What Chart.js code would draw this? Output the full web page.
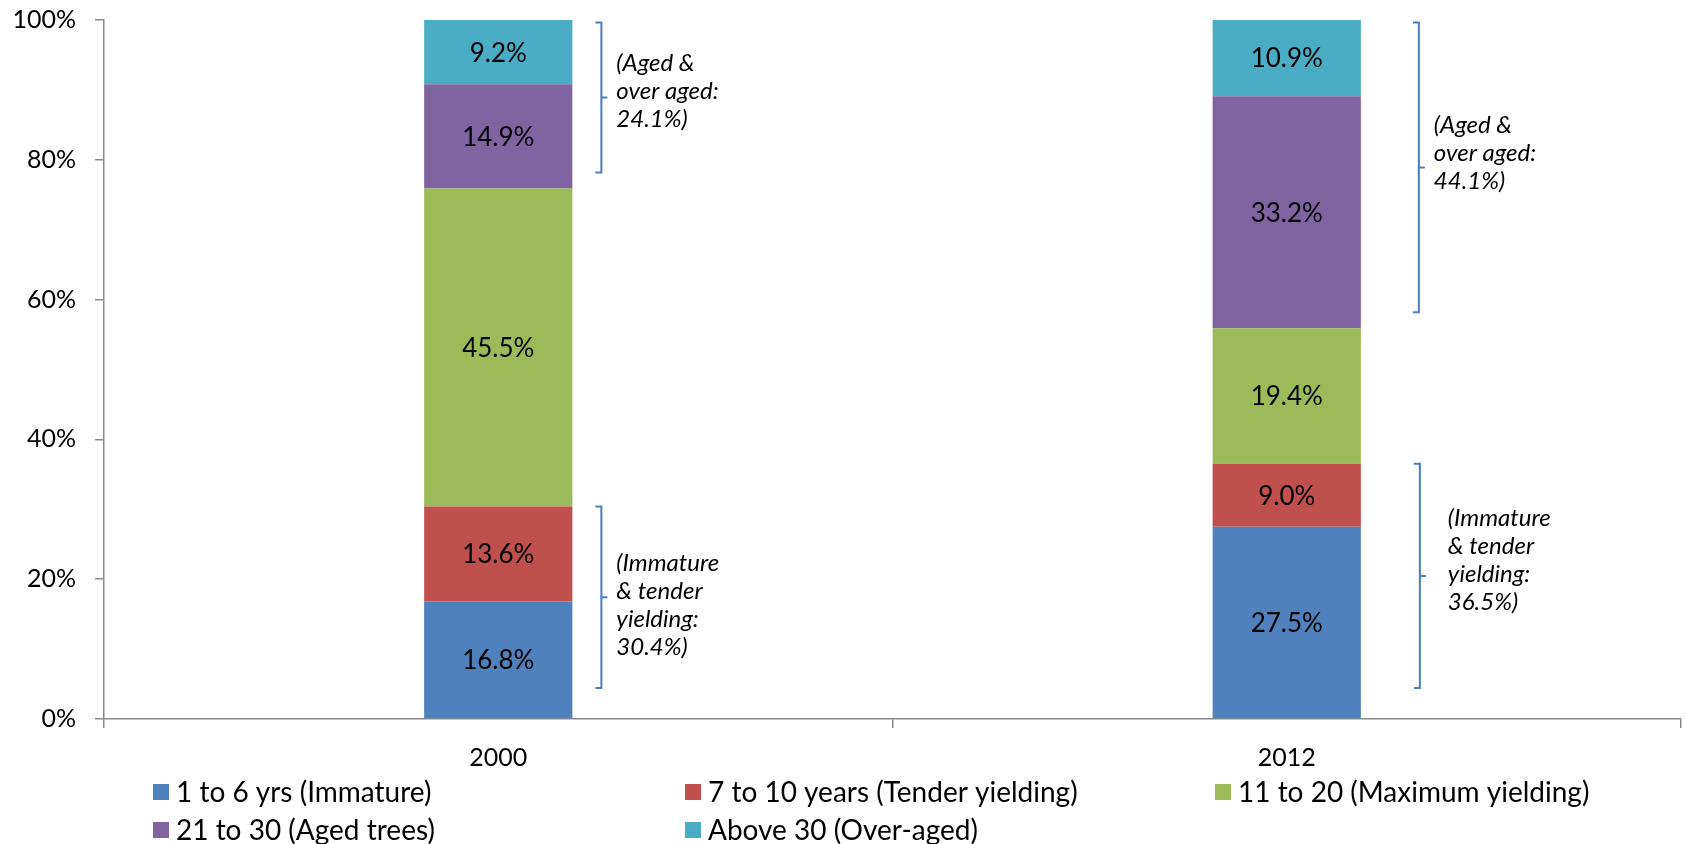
<!DOCTYPE html>
<html>
<head>
<meta charset="utf-8">
<title>Tea bush age structure, 2000 and 2012</title>
<script src="https://cdn.jsdelivr.net/npm/chart.js@4.4.1/dist/chart.umd.min.js"></script>
<style>
  html, body { margin: 0; padding: 0; background: #fff; }
  canvas { display: block; }
</style>
</head>
<body>
<canvas id="ageChart" width="1686" height="844"></canvas>
<script>
// categories and series values (share in %)
const years = ["2000", "2012"];
const seriesNames = [
  "1 to 6 yrs (Immature)",
  "7 to 10 years (Tender yielding)",
  "11 to 20 (Maximum yielding)",
  "21 to 30 (Aged trees)",
  "Above 30 (Over-aged)"
];
const immature = [16.8, 27.5];
const tender = [13.6, 9.0];
const maxYield = [45.5, 19.4];
const aged = [14.9, 33.2];
const overAged = [9.2, 10.9];
const yTicks = [0, 20, 40, 60, 80, 100];

const colors = ["#4F81BD", "#C0504D", "#9BBB59", "#8064A2", "#4BACC6"];
const axisGrey = "#898989";
const FONT = "Lato, 'Open Sans', sans-serif";

// bracket placement (pixels, relative to bar edge / bracket middle)
const bracketLayout = [
  { cat: 0, group: "upper", dx: 29, tx: 15, ty: -34 },
  { cat: 0, group: "lower", dx: 29, tx: 15, ty: -34 },
  { cat: 1, group: "upper", dx: 58, tx: 15, ty: -42 },
  { cat: 1, group: "lower", dx: 59, tx: 28, ty: -58 }
];

const seriesValues = [immature, tender, maxYield, aged, overAged];

// value labels inside each segment
const segmentLabels = {
  id: "segmentLabels",
  afterDatasetsDraw(chart) {
    const c = chart.ctx;
    c.save();
    c.font = "26px " + FONT;
    c.fillStyle = "#000";
    c.textAlign = "center";
    c.textBaseline = "middle";
    chart.data.datasets.forEach((ds, di) => {
      chart.getDatasetMeta(di).data.forEach((bar, i) => {
        c.fillText(ds.data[i].toFixed(1) + "%", bar.x, (bar.y + bar.base) / 2 + 1);
      });
    });
    c.restore();
  }
};

// brackets with group totals
const groupBrackets = {
  id: "groupBrackets",
  afterDatasetsDraw(chart) {
    const c = chart.ctx;
    const y = chart.scales.y;
    c.save();
    bracketLayout.forEach(b => {
      const i = b.cat;
      const bar = chart.getDatasetMeta(0).data[i];
      const x = bar.x + bar.width / 2 + b.dx;
      let top, bottom, lines;
      if (b.group === "upper") {
        const total = aged[i] + overAged[i];
        top = y.getPixelForValue(100) + 2.5;
        bottom = y.getPixelForValue(100 - total) - 16;
        lines = ["(Aged &", "over aged:", total.toFixed(1) + "%)"];
      } else {
        const total = immature[i] + tender[i];
        top = y.getPixelForValue(total);
        bottom = y.getPixelForValue(0) - 31;
        lines = ["(Immature", "& tender", "yielding:", total.toFixed(1) + "%)"];
      }
      const mid = (top + bottom) / 2;
      c.strokeStyle = "#4A7EBB";
      c.lineWidth = 2;
      c.beginPath();
      c.moveTo(x - 6, top);
      c.lineTo(x, top);
      c.lineTo(x, bottom);
      c.lineTo(x - 6, bottom);
      c.moveTo(x, mid);
      c.lineTo(x + 6, mid);
      c.stroke();

      c.font = "italic 24px " + FONT;
      c.fillStyle = "#000";
      c.textAlign = "left";
      c.textBaseline = "middle";
      lines.forEach((t, k) => c.fillText(t, x + b.tx, mid + b.ty + k * 28));
    });
    c.restore();
  }
};

// legend laid out in fixed columns, like the original
const gridLegend = {
  id: "gridLegend",
  afterDraw(chart) {
    const c = chart.ctx;
    const colX = [153, 685, 1215];
    const rowY = [792, 830];
    c.save();
    c.font = "28px " + FONT;
    c.textAlign = "left";
    c.textBaseline = "middle";
    chart.data.datasets.forEach((ds, di) => {
      const x = colX[di % 3];
      const yy = rowY[Math.floor(di / 3)];
      c.fillStyle = ds.backgroundColor;
      c.fillRect(x, yy - 8, 16, 16);
      c.fillStyle = "#000";
      c.fillText(ds.label, x + 23, yy + 1);
    });
    c.restore();
  }
};

const chart = new Chart(document.getElementById("ageChart"), {
  type: "bar",
  data: {
    labels: years,
    datasets: seriesNames.map((name, k) => ({
      label: name,
      data: seriesValues[k],
      backgroundColor: colors[k],
      borderWidth: 0,
      categoryPercentage: 1,
      barPercentage: 0.188
    }))
  },
  options: {
    responsive: false,
    animation: false,
    devicePixelRatio: 1,
    layout: { padding: { top: 20, right: 5, bottom: 0, left: 0 } },
    plugins: {
      legend: { display: false },
      tooltip: { enabled: false }
    },
    scales: {
      x: {
        stacked: true,
        grid: { drawOnChartArea: false, color: axisGrey, tickLength: 9, lineWidth: 1.5 },
        border: { color: axisGrey, width: 1.5 },
        ticks: { color: "#000", font: { family: FONT, size: 25 }, padding: 15 },
        afterFit(scale) { scale.height = 125; }
      },
      y: {
        stacked: true,
        min: 0,
        max: 100,
        afterBuildTicks(scale) { scale.ticks = yTicks.map(v => ({ value: v })); },
        grid: { drawOnChartArea: false, color: axisGrey, tickLength: 9, lineWidth: 1.5 },
        border: { color: axisGrey, width: 1.5 },
        ticks: {
          color: "#000",
          font: { family: FONT, size: 25 },
          padding: 19,
          callback: v => v + "%"
        },
        afterFit(scale) {
          scale.width = 104;
          scale.paddingTop = 0;
          scale.paddingBottom = 0;
        }
      }
    }
  },
  plugins: [segmentLabels, groupBrackets, gridLegend]
});
</script>
</body>
</html>
